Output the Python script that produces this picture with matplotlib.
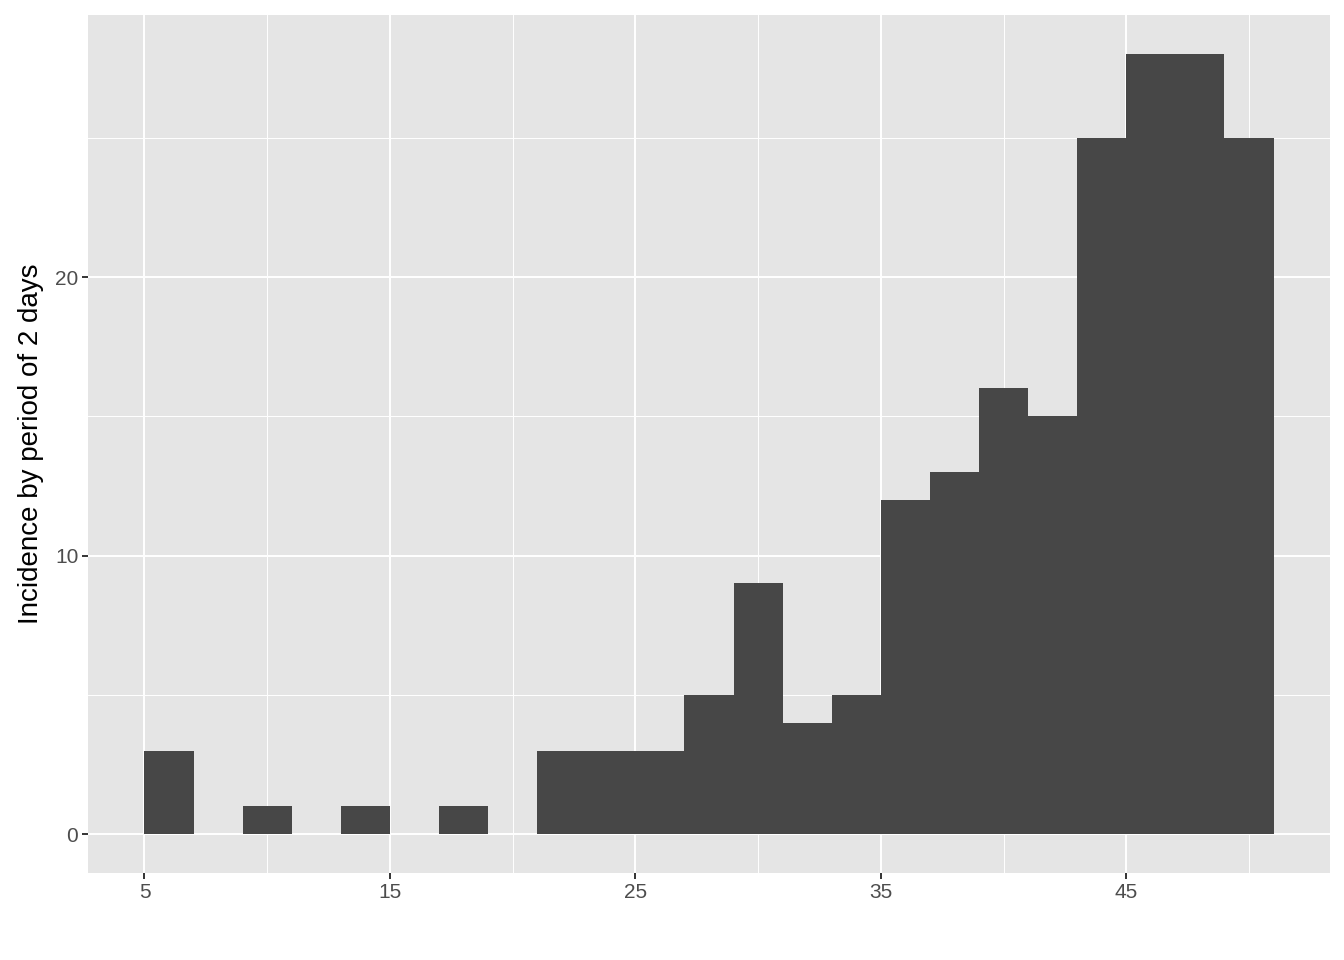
import matplotlib
matplotlib.use("Agg")
import matplotlib.pyplot as plt
import numpy as np

plt.rcParams['font.family'] = ['Liberation Sans', 'DejaVu Sans']

# histogram bins (left edge, width 2 days) and counts
bin_left = [5, 7, 9, 11, 13, 15, 17, 19, 21, 23, 25, 27, 29, 31, 33, 35, 37, 39, 41, 43, 45, 47, 49]
counts = [3, 0, 1, 0, 1, 0, 1, 0, 3, 3, 3, 5, 9, 4, 5, 12, 13, 16, 15, 25, 28, 28, 25]
bin_width = 2
x_ticks = [5, 15, 25, 35, 45]
y_ticks = [0, 10, 20]

fig = plt.figure(figsize=(13.44, 9.6), dpi=100)
ax = fig.add_axes([0.0655, 0.0906, 0.9241, 0.8934])
ax.set_facecolor('#E5E5E5')

ax.bar(bin_left, counts, width=bin_width, align='edge', color='#474747', linewidth=0, zorder=3)

xmin, xmax = bin_left[0], bin_left[-1] + bin_width
xr = xmax - xmin
ax.set_xlim(xmin - 0.05 * xr, xmax + 0.05 * xr)
ymax = max(counts)
ax.set_ylim(-0.05 * ymax, ymax * 1.05)

ax.set_xticks(x_ticks)
ax.set_yticks(y_ticks)
ax.set_xticks([10, 20, 30, 40, 50], minor=True)
ax.set_yticks([5, 15, 25], minor=True)
ax.grid(which='major', color='white', linewidth=1.4, zorder=0)
ax.grid(which='minor', color='white', linewidth=0.7, zorder=0)
ax.set_axisbelow(True)

for s in ax.spines.values():
    s.set_visible(False)

ax.tick_params(which='major', length=4, width=1.4, color='#333333', labelcolor='#4D4D4D', labelsize=15, pad=3)
ax.tick_params(which='minor', length=0)

ax.set_ylabel('Incidence by period of 2 days', fontsize=20, color='black', labelpad=8)

fig.savefig('out.png', dpi=100)
